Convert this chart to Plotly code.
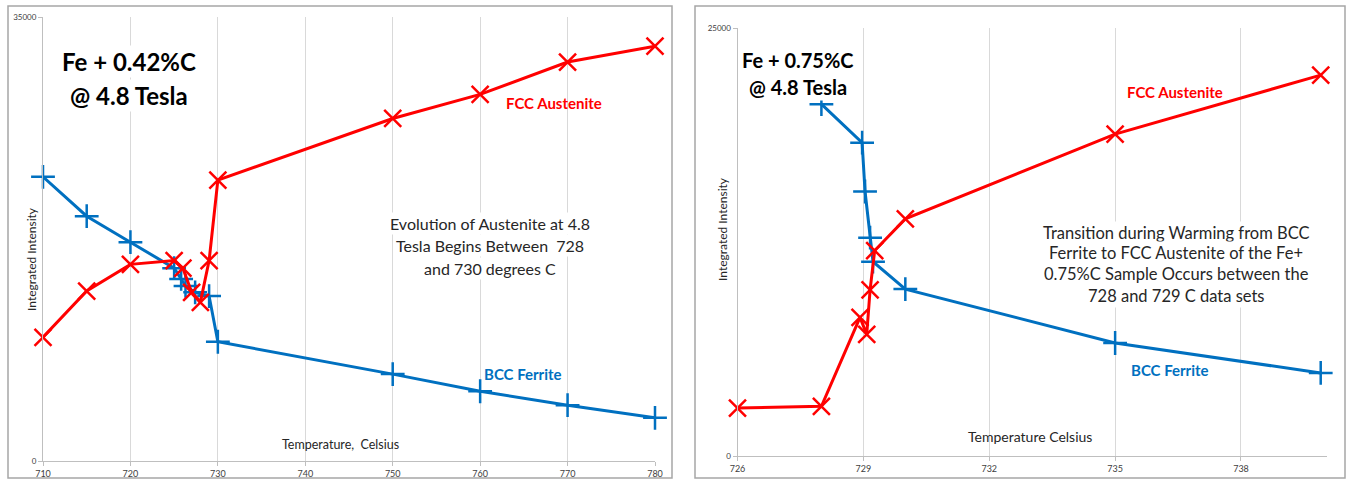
import plotly.graph_objects as go

W, H = 1351, 480

# ---------------- data ----------------
left_bcc_temp = [710, 715, 720, 725, 725.8, 726.3, 727.4, 729, 730, 750, 760, 770, 780]
left_bcc_int = [22400, 19300, 17250, 15200, 14350, 13800, 13300, 13000, 9400, 6850, 5500, 4400, 3400]
left_fcc_temp = [710, 715, 720, 725, 726, 727, 728, 729, 730, 750, 760, 770, 780]
left_fcc_int = [9750, 13400, 15500, 15800, 15200, 13300, 12500, 15800, 22150, 27000, 28900, 31450, 32700]

right_bcc_temp = [728, 728.97, 729.04, 729.16, 729.23, 730, 735, 739.9]
right_bcc_int = [20550, 18300, 15450, 12750, 11350, 9750, 6600, 4850]
right_fcc_temp = [726, 728, 728.92, 729.08, 729.16, 729.27, 730, 735, 739.9]
right_fcc_int = [2800, 2900, 8100, 7100, 9700, 12000, 13850, 18800, 22250]

left_xticks = [710, 720, 730, 740, 750, 760, 770, 780]
left_yticks = [0, 35000]
left_yticktext = ["0", "35000"]
right_xticks = [726, 729, 732, 735, 738]
right_yticks = [0, 25000]
right_yticktext = ["0", "25000"]

RED = "#FF0000"
BLUE = "#0070C0"
FONT = "Lato"


def px(x):
    return x / W


def py(y):
    return 1 - y / H


fig = go.Figure()


def add_series(xs, ys, color, symbol, xa, ya):
    fig.add_trace(go.Scatter(
        x=xs, y=ys, mode="lines+markers", xaxis=xa, yaxis=ya,
        line=dict(color=color, width=3),
        marker=dict(symbol=symbol, size=17, color=color,
                    line=dict(color=color, width=2.5)),
        cliponaxis=False,
        showlegend=False, hoverinfo="skip"))


add_series(left_bcc_temp, left_bcc_int, BLUE, "cross-thin-open", "x", "y")
add_series(left_fcc_temp, left_fcc_int, RED, "x-thin-open", "x", "y")
add_series(right_bcc_temp, right_bcc_int, BLUE, "cross-thin-open", "x2", "y2")
add_series(right_fcc_temp, right_fcc_int, RED, "x-thin-open", "x2", "y2")

axis_common = dict(showline=True, linecolor="#bfbfbf", linewidth=1,
                   ticks="outside", ticklen=4, tickcolor="#bfbfbf",
                   zeroline=False, automargin=False,
                   tickfont=dict(family=FONT, size=9, color="#404040"))

fig.update_layout(
    width=W, height=H, autosize=False,
    margin=dict(l=0, r=0, t=0, b=0),
    paper_bgcolor="white", plot_bgcolor="white",
    xaxis=dict(domain=[px(43), px(655)], range=[710, 780], tickvals=left_xticks,
               showgrid=True, gridcolor="#d9d9d9", gridwidth=1, anchor="y",
               **axis_common),
    yaxis=dict(domain=[py(461), py(17)], range=[0, 35000], tickvals=left_yticks,
               ticktext=left_yticktext,
               showgrid=False, anchor="x", **axis_common),
    xaxis2=dict(domain=[px(737.5), px(1327)], range=[726, 740.05], tickvals=right_xticks,
                showgrid=True, gridcolor="#d9d9d9", gridwidth=1, anchor="y2",
                **axis_common),
    yaxis2=dict(domain=[py(456), py(28)], range=[0, 25000], tickvals=right_yticks,
                ticktext=right_yticktext,
                showgrid=False, anchor="x2", **axis_common),
)
fig.update_yaxes(tickfont=dict(size=8))

# panel borders
for x0, x1 in [(8, 672), (695, 1345)]:
    fig.add_shape(type="rect", xref="paper", yref="paper",
                  x0=px(x0), x1=px(x1), y0=py(478), y1=py(6),
                  line=dict(color="#a6a6a6", width=1.5), fillcolor="rgba(0,0,0,0)",
                  layer="below")

anns = []


def txt(x, y, text, size, color="#262626", bold=False, bg=None, angle=0):
    d = dict(x=px(x), y=py(y), xref="paper", yref="paper", showarrow=False,
             text=("<b>%s</b>" % text) if bold else text,
             font=dict(family=FONT, size=size, color=color),
             xanchor="center", yanchor="middle", textangle=angle)
    if bg:
        d["bgcolor"] = bg
    anns.append(d)


# titles
txt(129, 62, "Fe + 0.42%C", 24, "#000000", True, "white")
txt(129, 96, "@ 4.8 Tesla", 24, "#000000", True, "white")
txt(798, 60, "Fe + 0.75%C", 20, "#000000", True, "white")
txt(798, 87, "@ 4.8 Tesla", 20, "#000000", True, "white")

# series labels
txt(554, 103, "FCC Austenite", 15, RED, True)
txt(523, 374, "BCC Ferrite", 15, BLUE, True)
txt(1175, 92, "FCC Austenite", 15, RED, True)
txt(1170, 370, "BCC Ferrite", 15, BLUE, True)

# descriptions
for y, t in [(223, "Evolution of Austenite at 4.8"),
             (246, "Tesla Begins Between\u00a0\u00a0728"),
             (268, "and 730 degrees C")]:
    txt(490, y, t, 16, "#262626", False, "white")
for y, t in [(233, "Transition during Warming from BCC"),
             (253, "Ferrite to FCC Austenite of the Fe+"),
             (274, "0.75%C Sample Occurs between the"),
             (296, "728 and 729 C data sets")]:
    txt(1176, y, t, 16.5, "#262626", False, "white")

# axis titles
txt(340, 444, "Temperature,\u00a0\u00a0Celsius", 12.5, "#262626")
txt(1030, 436, "Temperature Celsius", 14, "#262626")
txt(31, 259, "Integrated Intensity", 12, "#262626", angle=-90)
txt(722, 229, "Integrated Intensity", 12, "#262626", angle=-90)

fig.update_layout(annotations=anns)

fig.write_html("out.html", config={"displayModeBar": False},
               post_script="document.body.style.margin='0px';document.body.style.overflow='hidden';")
